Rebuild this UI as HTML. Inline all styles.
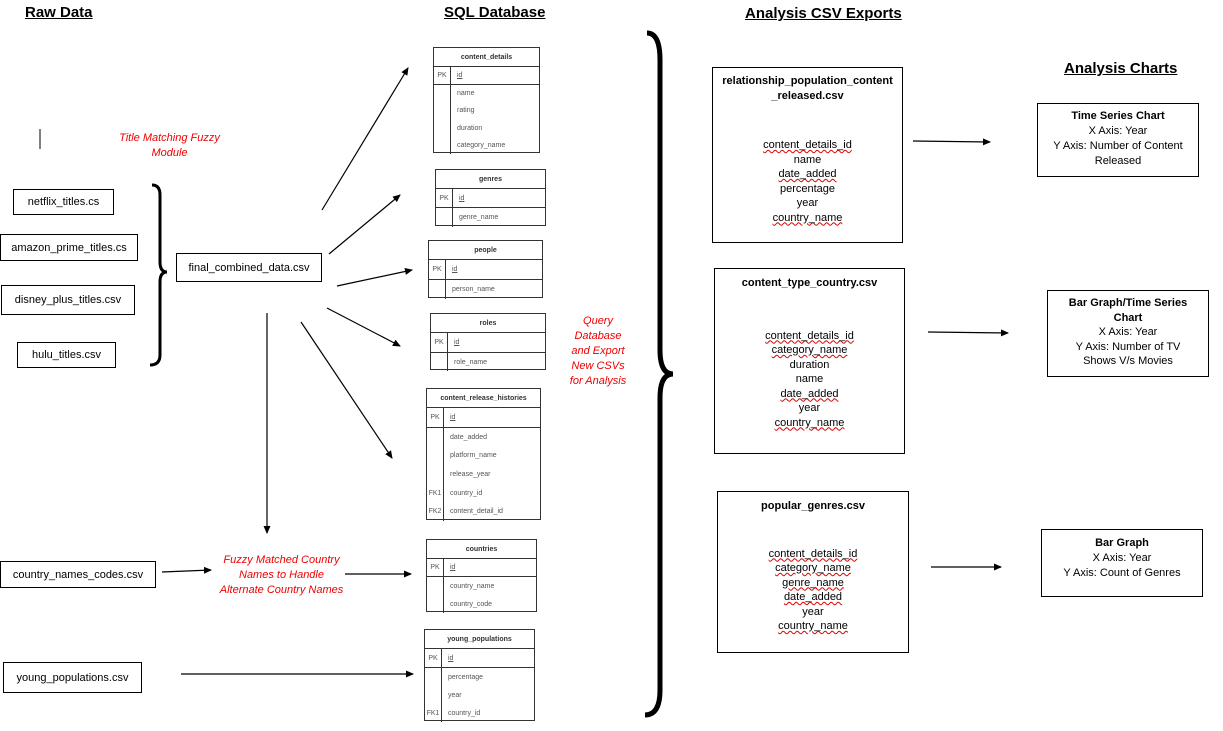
<!DOCTYPE html>
<html><head><style>
body{margin:0;width:1223px;height:731px;background:#fff;position:relative;overflow:hidden;font-family:"Liberation Sans",sans-serif;}
.a{position:absolute}
.h{font-weight:bold;text-decoration:underline;font-size:15px;}
.box{position:absolute;border:1px solid #000;font-size:11px;display:flex;align-items:center;justify-content:center;box-sizing:border-box;background:#fff}
.red{position:absolute;color:#e00;font-style:italic;font-size:11px;text-align:center;line-height:15px}
.t{position:absolute;border:1px solid #333;box-sizing:border-box;font-size:7px;color:#555;background:#fff}
.t .hd{text-align:center;font-weight:bold;color:#333;border-bottom:1px solid #333;display:flex;align-items:center;justify-content:center}
.t .pk{display:flex;border-bottom:1px solid #333}
.t .c1{width:17px;border-right:1px solid #333;box-sizing:border-box;display:flex;flex-direction:column;justify-content:space-around;text-align:center}
.t .c2{flex:1;padding-left:6px;display:flex;flex-direction:column;justify-content:space-around}
.t .rows{display:flex}
.ob{position:absolute;border:1px solid #000;box-sizing:border-box;font-size:11px;text-align:center}
.ob b{display:block}
.sq{text-decoration:underline wavy #d00;text-decoration-thickness:1px}
</style></head><body>
<div class="a h" style="left:25px;top:4px">Raw Data</div>
<div class="a h" style="left:444px;top:4px">SQL Database</div>
<div class="a h" style="left:745px;top:5px">Analysis CSV Exports</div>
<div class="a h" style="left:1064px;top:60px">Analysis Charts</div>

<svg class="a" style="left:0;top:0" width="1223" height="731">
<defs><marker id="m" markerWidth="8" markerHeight="8" refX="7" refY="4" orient="auto" markerUnits="userSpaceOnUse"><path d="M0,0.5 L8,4 L0,7.5z" fill="#000"/></marker></defs>
<g stroke="#000" stroke-width="1.2" fill="none" marker-end="url(#m)">
<line x1="322" y1="210" x2="408" y2="68"/>
<line x1="329" y1="254" x2="400" y2="195"/>
<line x1="337" y1="286" x2="412" y2="270"/>
<line x1="327" y1="308" x2="400" y2="346"/>
<line x1="301" y1="322" x2="392" y2="458"/>
<line x1="267" y1="313" x2="267" y2="533"/>
<line x1="162" y1="572" x2="211" y2="570"/>
<line x1="345" y1="574" x2="411" y2="574"/>
<line x1="181" y1="674" x2="413" y2="674"/>
<line x1="913" y1="141" x2="990" y2="142"/>
<line x1="928" y1="332" x2="1008" y2="333"/>
<line x1="931" y1="567" x2="1001" y2="567"/>
</g>
<line x1="40" y1="129" x2="40" y2="149" stroke="#000"/>
<path d="M152,185 Q160,185 160,195 L160,262 Q160,272 167,272 Q160,272 160,282 L160,355 Q160,365 150,365" stroke="#000" stroke-width="3" fill="none"/>
<path d="M647,33 Q660,33 660,60 L660,350 Q660,374 673,374 Q660,374 660,398 L660,690 Q660,715 645,715" stroke="#000" stroke-width="5" fill="none"/>
</svg>

<div class="red" style="left:112px;top:131px;width:115px">Title Matching Fuzzy Module</div>
<div class="red" style="left:568px;top:314px;width:60px">Query Database and Export New CSVs for Analysis</div>
<div class="red" style="left:219px;top:553px;width:125px">Fuzzy Matched Country Names to Handle Alternate Country Names</div>

<div class="box" style="left:13px;top:189px;width:101px;height:26px">netflix_titles.cs</div>
<div class="box" style="left:0;top:234px;width:138px;height:27px">amazon_prime_titles.cs</div>
<div class="box" style="left:1px;top:285px;width:134px;height:30px">disney_plus_titles.csv</div>
<div class="box" style="left:17px;top:342px;width:99px;height:26px">hulu_titles.csv</div>
<div class="box" style="left:176px;top:253px;width:146px;height:29px">final_combined_data.csv</div>
<div class="box" style="left:0;top:561px;width:156px;height:27px">country_names_codes.csv</div>
<div class="box" style="left:3px;top:662px;width:139px;height:31px">young_populations.csv</div>

<div class="t" style="left:433px;top:47px;width:107px;height:106px"><div class="hd" style="height:18px">content_details</div><div class="pk" style="height:17px"><div class="c1">PK</div><div class="c2"><u>id</u></div></div><div class="rows" style="height:69px"><div class="c1"></div><div class="c2"><span>name</span><span>rating</span><span>duration</span><span>category_name</span></div></div></div>
<div class="t" style="left:435px;top:169px;width:111px;height:57px"><div class="hd" style="height:18px">genres</div><div class="pk" style="height:18px"><div class="c1">PK</div><div class="c2"><u>id</u></div></div><div class="rows" style="height:19px"><div class="c1"></div><div class="c2"><span>genre_name</span></div></div></div>
<div class="t" style="left:428px;top:240px;width:115px;height:58px"><div class="hd" style="height:18px">people</div><div class="pk" style="height:19px"><div class="c1">PK</div><div class="c2"><u>id</u></div></div><div class="rows" style="height:19px"><div class="c1"></div><div class="c2"><span>person_name</span></div></div></div>
<div class="t" style="left:430px;top:313px;width:116px;height:57px"><div class="hd" style="height:18px">roles</div><div class="pk" style="height:19px"><div class="c1">PK</div><div class="c2"><u>id</u></div></div><div class="rows" style="height:18px"><div class="c1"></div><div class="c2"><span>role_name</span></div></div></div>
<div class="t" style="left:426px;top:388px;width:115px;height:132px"><div class="hd" style="height:18px">content_release_histories</div><div class="pk" style="height:19px"><div class="c1">PK</div><div class="c2"><u>id</u></div></div><div class="rows" style="height:93px"><div class="c1"><span>&nbsp;</span><span>&nbsp;</span><span>&nbsp;</span><span>FK1</span><span>FK2</span></div><div class="c2"><span>date_added</span><span>platform_name</span><span>release_year</span><span>country_id</span><span>content_detail_id</span></div></div></div>
<div class="t" style="left:426px;top:539px;width:111px;height:73px"><div class="hd" style="height:18px">countries</div><div class="pk" style="height:17px"><div class="c1">PK</div><div class="c2"><u>id</u></div></div><div class="rows" style="height:36px"><div class="c1"></div><div class="c2"><span>country_name</span><span>country_code</span></div></div></div>
<div class="t" style="left:424px;top:629px;width:111px;height:92px"><div class="hd" style="height:18px">young_populations</div><div class="pk" style="height:18px"><div class="c1">PK</div><div class="c2"><u>id</u></div></div><div class="rows" style="height:54px"><div class="c1"><span>&nbsp;</span><span>&nbsp;</span><span>FK1</span></div><div class="c2"><span>percentage</span><span>year</span><span>country_id</span></div></div></div>

<div class="ob" style="left:712px;top:67px;width:191px;height:176px;line-height:14.5px"><b style="margin-top:6px">relationship_population_content<br>_released.csv</b><div style="margin-top:35px"><span class="sq">content_details_id</span><br>name<br><span class="sq">date_added</span><br>percentage<br>year<br><span class="sq">country_name</span></div></div>
<div class="ob" style="left:714px;top:268px;width:191px;height:186px;line-height:14.5px"><b style="margin-top:7px">content_type_country.csv</b><div style="margin-top:38px"><span class="sq">content_details_id</span><br><span class="sq">category_name</span><br>duration<br>name<br><span class="sq">date_added</span><br>year<br><span class="sq">country_name</span></div></div>
<div class="ob" style="left:717px;top:491px;width:192px;height:162px;line-height:14.5px"><b style="margin-top:7px">popular_genres.csv</b><div style="margin-top:33px"><span class="sq">content_details_id</span><br><span class="sq">category_name</span><br><span class="sq">genre_name</span><br><span class="sq">date_added</span><br>year<br><span class="sq">country_name</span></div></div>

<div class="ob" style="left:1037px;top:103px;width:162px;height:74px;line-height:15px;padding-top:5px"><b>Time Series Chart</b>X Axis: Year<br>Y Axis: Number of Content Released</div>
<div class="ob" style="left:1047px;top:290px;width:162px;height:87px;line-height:14.5px;padding:5px 12px 0"><b>Bar Graph/Time Series Chart</b>X Axis: Year<br>Y Axis: Number of TV Shows V/s Movies</div>
<div class="ob" style="left:1041px;top:529px;width:162px;height:68px;line-height:15px;padding-top:6px"><b>Bar Graph</b>X Axis: Year<br>Y Axis: Count of Genres</div>
</body></html>
